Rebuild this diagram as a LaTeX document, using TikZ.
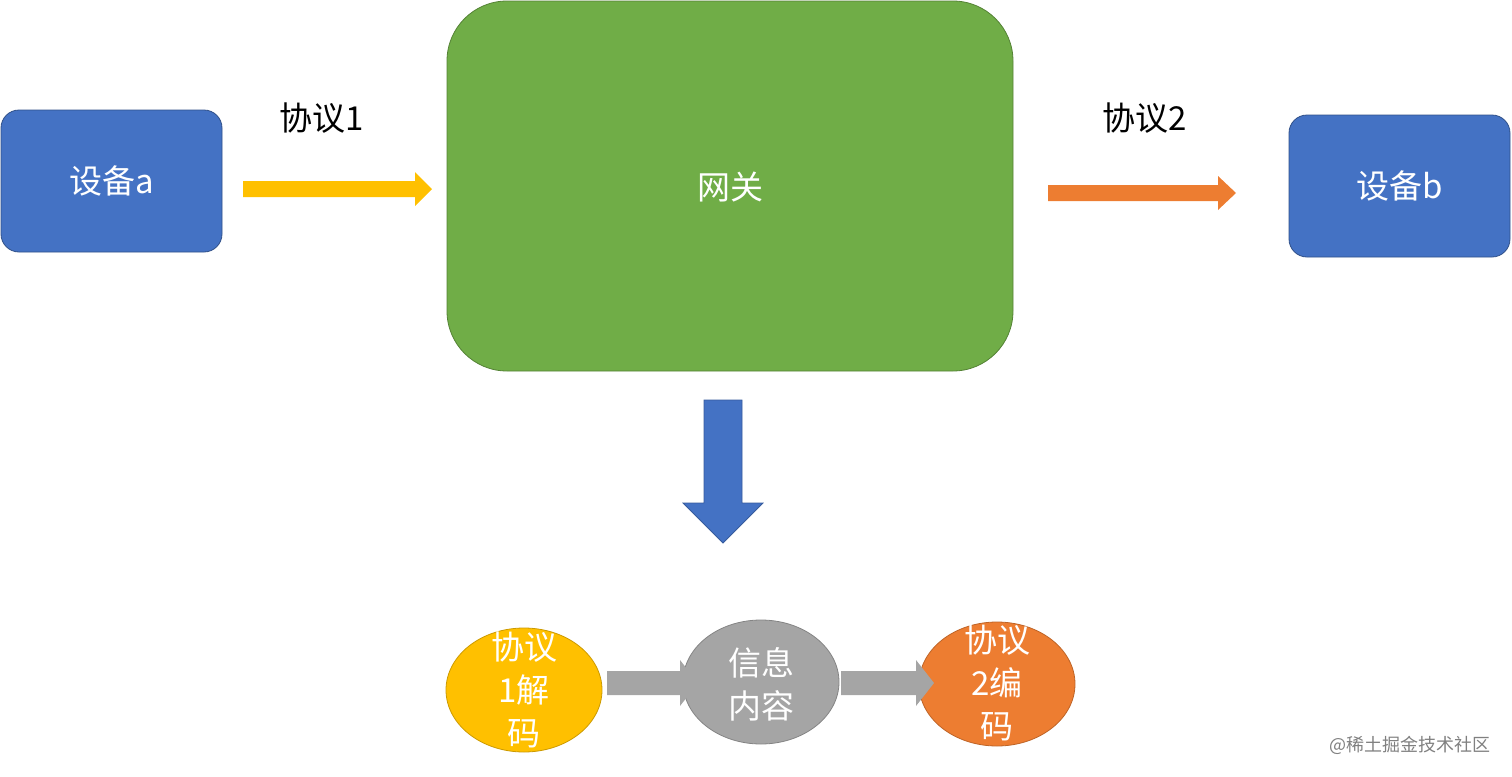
\documentclass[tikz,border=0pt]{standalone}
\usepackage{fontspec}
\setmainfont{Noto Sans CJK SC}
\usetikzlibrary{shapes.geometric}
\definecolor{cblue}{HTML}{4472C4}
\definecolor{cgreen}{HTML}{70AD47}
\definecolor{cyel}{HTML}{FFC000}
\definecolor{corg}{HTML}{ED7D31}
\definecolor{cgray}{HTML}{A5A5A5}
\begin{document}
\begin{tikzpicture}[x=0.5pt,y=-0.5pt,
 box/.style={draw=#1!70!black,fill=#1,rounded corners=9pt,text=white,font=\fontsize{16.5}{19}\selectfont},
 ell/.style={ellipse,draw=#1!80!black,fill=#1,inner sep=0pt,minimum width=78pt,minimum height=62pt},
 etxt/.style={text=white,align=center,inner sep=0pt,font=\fontsize{16.5}{21.5}\selectfont},
 lbl/.style={font=\fontsize{16.5}{19}\selectfont}]
\useasboundingbox (0,0) rectangle (1512,777);
\node[box=cblue,minimum width=110.5pt,minimum height=71pt] (a) at (111.5,181) {设备a};
\node[box=cblue,minimum width=110.5pt,minimum height=71pt] (b) at (1399.5,186) {设备b};
\node[draw=cgreen!75!black,fill=cgreen,rounded corners=30pt,minimum width=283pt,minimum height=185pt] (g) at (730,186) {};
\node[text=white,font=\fontsize{16.5}{19}\selectfont] (gt) at (730,187) {网关};
\node[lbl] (p1) at (322,118) {协议1};
\node[lbl] (p2) at (1145,118) {协议2};
\fill[cyel] (243,181) -- (415,181) -- (415,172) -- (432,189) -- (415,206) -- (415,197) -- (243,197) -- cycle;
\fill[corg] (1048,185) -- (1218,185) -- (1218,176) -- (1236,193) -- (1218,210) -- (1218,201) -- (1048,201) -- cycle;
\filldraw[fill=cblue,draw=cblue!80!black] (704,400) -- (742,400) -- (742,503) -- (763,503) -- (723,543) -- (683,503) -- (704,503) -- cycle;
\node[ell=cyel] (e1) at (524,690) {};
\node[ell=cgray] (e2) at (761,682) {};
\node[ell=corg] (e3) at (997,684) {};
\node[etxt] (t1) at (524,690) {协议\\1解\\码};
\node[etxt] (t2) at (761,684) {信息\\内容};
\node[etxt] (t3) at (997,683) {协议\\2编\\码};
\fill[cgray] (607,671) -- (680,671) -- (680,660) -- (698,683) -- (680,706) -- (680,695) -- (607,695) -- cycle;
\fill[cgray] (841,671) -- (916,671) -- (916,660) -- (934,683) -- (916,706) -- (916,695) -- (841,695) -- cycle;
\node[text=gray,font=\fontsize{9}{11}\selectfont] (wm) at (1410,745) {@稀土掘金技术社区};
\end{tikzpicture}
\end{document}
